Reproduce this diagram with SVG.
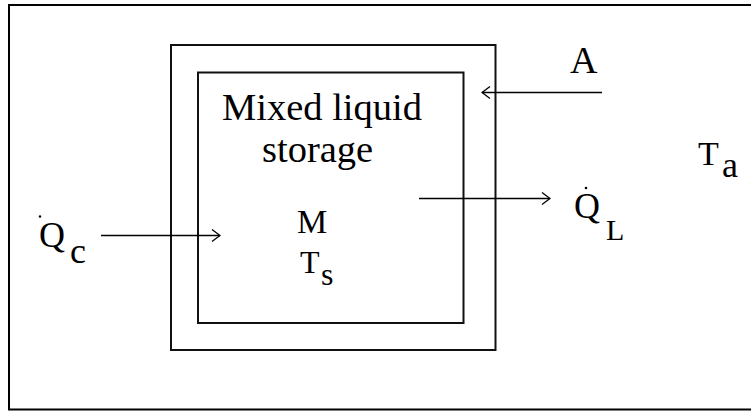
<svg xmlns="http://www.w3.org/2000/svg" width="751" height="411" viewBox="0 0 751 411">
<defs>
<marker id="open" viewBox="0 0 10 14" refX="9" refY="7" markerWidth="10" markerHeight="14" markerUnits="userSpaceOnUse" orient="auto">
<path d="M1,1 L9,7 L1,13" fill="none" stroke="#000" stroke-width="1.3"/>
</marker>
</defs>
<rect width="751" height="411" fill="#fff"/>
<rect x="9" y="5" width="780" height="404.5" fill="none" stroke="#000" stroke-width="2"/>
<g id="insulation"><rect x="171" y="45" width="324.5" height="305" fill="none" stroke="#111" stroke-width="2"/></g>
<g id="storage"><rect x="198" y="72.5" width="265.5" height="250.5" fill="none" stroke="#111" stroke-width="2"/>
<text x="222" y="120" font-size="38.5" font-family="Liberation Serif">Mixed liquid</text>
<text x="262" y="161.5" font-size="38.5" font-family="Liberation Serif">storage</text>
<text x="297" y="233" font-size="34" font-family="Liberation Serif">M</text>
<text x="300" y="273" font-size="32" font-family="Liberation Serif">T</text><text x="321" y="285" font-size="32" font-family="Liberation Serif">s</text>
</g>
<g id="Qc"><circle cx="40" cy="216.5" r="1.2"/><text x="39" y="247" font-size="36" font-family="Liberation Serif">Q</text><text x="70" y="263" font-size="36" font-family="Liberation Serif">c</text></g>
<g id="QL"><circle cx="586" cy="188" r="1.3"/><text x="574" y="218" font-size="36" font-family="Liberation Serif">Q</text><text x="606" y="240" font-size="30" font-family="Liberation Serif">L</text></g>
<g id="A"><text x="570" y="73" font-size="38" font-family="Liberation Serif">A</text></g>
<g id="Ta"><text x="698" y="165" font-size="34" font-family="Liberation Serif">T</text><text x="722" y="177" font-size="36" font-family="Liberation Serif">a</text></g>
<g id="connectors" stroke="#000" stroke-width="1.5">
<line x1="101" y1="235.5" x2="220" y2="235.5" marker-end="url(#open)"/>
<line x1="602" y1="92.5" x2="482" y2="92.5" marker-end="url(#open)"/>
<line x1="419" y1="198.5" x2="550" y2="198.5" marker-end="url(#open)"/>
</g>
</svg>
